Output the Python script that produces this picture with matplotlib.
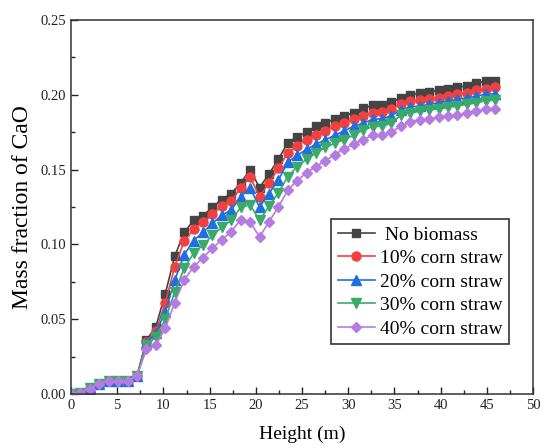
import numpy as np
import matplotlib
matplotlib.use('Agg')
import matplotlib.pyplot as plt
from matplotlib.ticker import MultipleLocator

plt.rcParams['font.family'] = ['Liberation Serif', 'DejaVu Serif']

#%% data
height = [0.00, 1.02, 2.04, 3.06, 4.08, 5.10, 6.12, 7.14, 8.16, 9.18,
          10.20, 11.22, 12.24, 13.26, 14.28, 15.30, 16.32, 17.34, 18.36, 19.38,
          20.40, 21.42, 22.44, 23.46, 24.48, 25.50, 26.52, 27.54, 28.56, 29.58,
          30.60, 31.62, 32.64, 33.66, 34.68, 35.70, 36.72, 37.74, 38.76, 39.78,
          40.80, 41.82, 42.84, 43.86, 44.88, 45.90]

no_biomass = [0.000, 0.001, 0.001, 0.007, 0.009, 0.009, 0.009, 0.012, 0.036, 0.045,
              0.067, 0.092, 0.108, 0.116, 0.119, 0.125, 0.130, 0.134, 0.141, 0.150,
              0.138, 0.147, 0.157, 0.168, 0.172, 0.175, 0.179, 0.181, 0.184, 0.186,
              0.188, 0.191, 0.193, 0.193, 0.195, 0.198, 0.200, 0.201, 0.202, 0.203,
              0.204, 0.205, 0.206, 0.208, 0.209, 0.209]
straw_10 = [0.000, 0.001, 0.004, 0.007, 0.009, 0.009, 0.009, 0.012, 0.035, 0.042,
            0.061, 0.085, 0.102, 0.110, 0.115, 0.120, 0.126, 0.129, 0.1375, 0.145,
            0.132, 0.141, 0.151, 0.161, 0.166, 0.170, 0.173, 0.176, 0.179, 0.181,
            0.184, 0.186, 0.188, 0.1885, 0.1905, 0.194, 0.196, 0.1965, 0.197, 0.198,
            0.199, 0.2005, 0.2014, 0.203, 0.204, 0.205]
straw_20 = [0.000, 0.001, 0.004, 0.007, 0.009, 0.009, 0.009, 0.012, 0.034, 0.041,
            0.055, 0.076, 0.093, 0.1025, 0.108, 0.114, 0.1195, 0.123, 0.132, 0.1375,
            0.125, 0.134, 0.143, 0.155, 0.1595, 0.1636, 0.167, 0.170, 0.173, 0.176,
            0.179, 0.181, 0.1836, 0.184, 0.186, 0.190, 0.192, 0.1925, 0.1936, 0.1947,
            0.196, 0.197, 0.198, 0.199, 0.2005, 0.2005]
straw_30 = [0.000, 0.001, 0.004, 0.007, 0.009, 0.009, 0.009, 0.012, 0.0325, 0.038,
            0.050, 0.068, 0.084, 0.094, 0.0995, 0.106, 0.1115, 0.116, 0.1248, 0.1265,
            0.116, 0.1255, 0.1346, 0.1453, 0.152, 0.157, 0.161, 0.165, 0.1676, 0.170,
            0.173, 0.1765, 0.1787, 0.179, 0.181, 0.1865, 0.188, 0.189, 0.190, 0.1907,
            0.1916, 0.1925, 0.1936, 0.1947, 0.196, 0.1965]
straw_40 = [0.000, 0.001, 0.0035, 0.007, 0.009, 0.009, 0.009, 0.012, 0.030, 0.0325,
            0.044, 0.061, 0.076, 0.085, 0.091, 0.0975, 0.103, 0.1085, 0.1165, 0.115,
            0.105, 0.115, 0.125, 0.1364, 0.1426, 0.148, 0.152, 0.156, 0.160, 0.164,
            0.167, 0.170, 0.1729, 0.1729, 0.1753, 0.179, 0.182, 0.183, 0.1836, 0.185,
            0.186, 0.1865, 0.1876, 0.189, 0.1905, 0.1905]

labels = [' No biomass', '10% corn straw', '20% corn straw', '30% corn straw', '40% corn straw']

#%% plot
fig = plt.figure(figsize=(5.43, 4.48), dpi=100)
ax = fig.add_axes([0.1308, 0.1205, 0.8508, 0.8349])

series = [no_biomass, straw_10, straw_20, straw_30, straw_40]
colors = ['#444444', '#f24040', '#1f6fe0', '#3aaa6a', '#b47be0']
markers = ['s', 'o', '^', 'v', 'D']
sizes = [6, 6.5, 6.5, 6.5, 5.5]

for y, c, m, s, lab in zip(series, colors, markers, sizes, labels):
    ax.plot(height, y, color=c, marker=m, markersize=s, lw=1.2, label=lab)

ax.set_xlim(0, 50)
ax.set_ylim(0, 0.25)
ax.xaxis.set_major_locator(MultipleLocator(5))
ax.xaxis.set_minor_locator(MultipleLocator(2.5))
ax.yaxis.set_major_locator(MultipleLocator(0.05))
ax.yaxis.set_minor_locator(MultipleLocator(0.025))
ax.yaxis.set_major_formatter(matplotlib.ticker.FormatStrFormatter('%.2f'))
ax.tick_params(which='both', direction='in', labelsize=10.5, colors='#222222')
ax.tick_params(which='major', length=5, width=1)
ax.tick_params(which='minor', length=3, width=1)
for sp in ax.spines.values():
    sp.set_linewidth(1.1)
    sp.set_color('#333333')

ax.set_xlabel('Height (m)', fontsize=14, labelpad=10)
ax.set_ylabel('Mass fraction of CaO', fontsize=17, labelpad=5)

leg = ax.legend(loc='upper left', bbox_to_anchor=(0.563, 0.467), fontsize=14,
                frameon=True, fancybox=False, edgecolor='black',
                handlelength=1.9, handletextpad=0.25, labelspacing=0.3,
                borderpad=0.35, borderaxespad=0)
leg.get_frame().set_linewidth(1.2)

plt.savefig('out.png')
